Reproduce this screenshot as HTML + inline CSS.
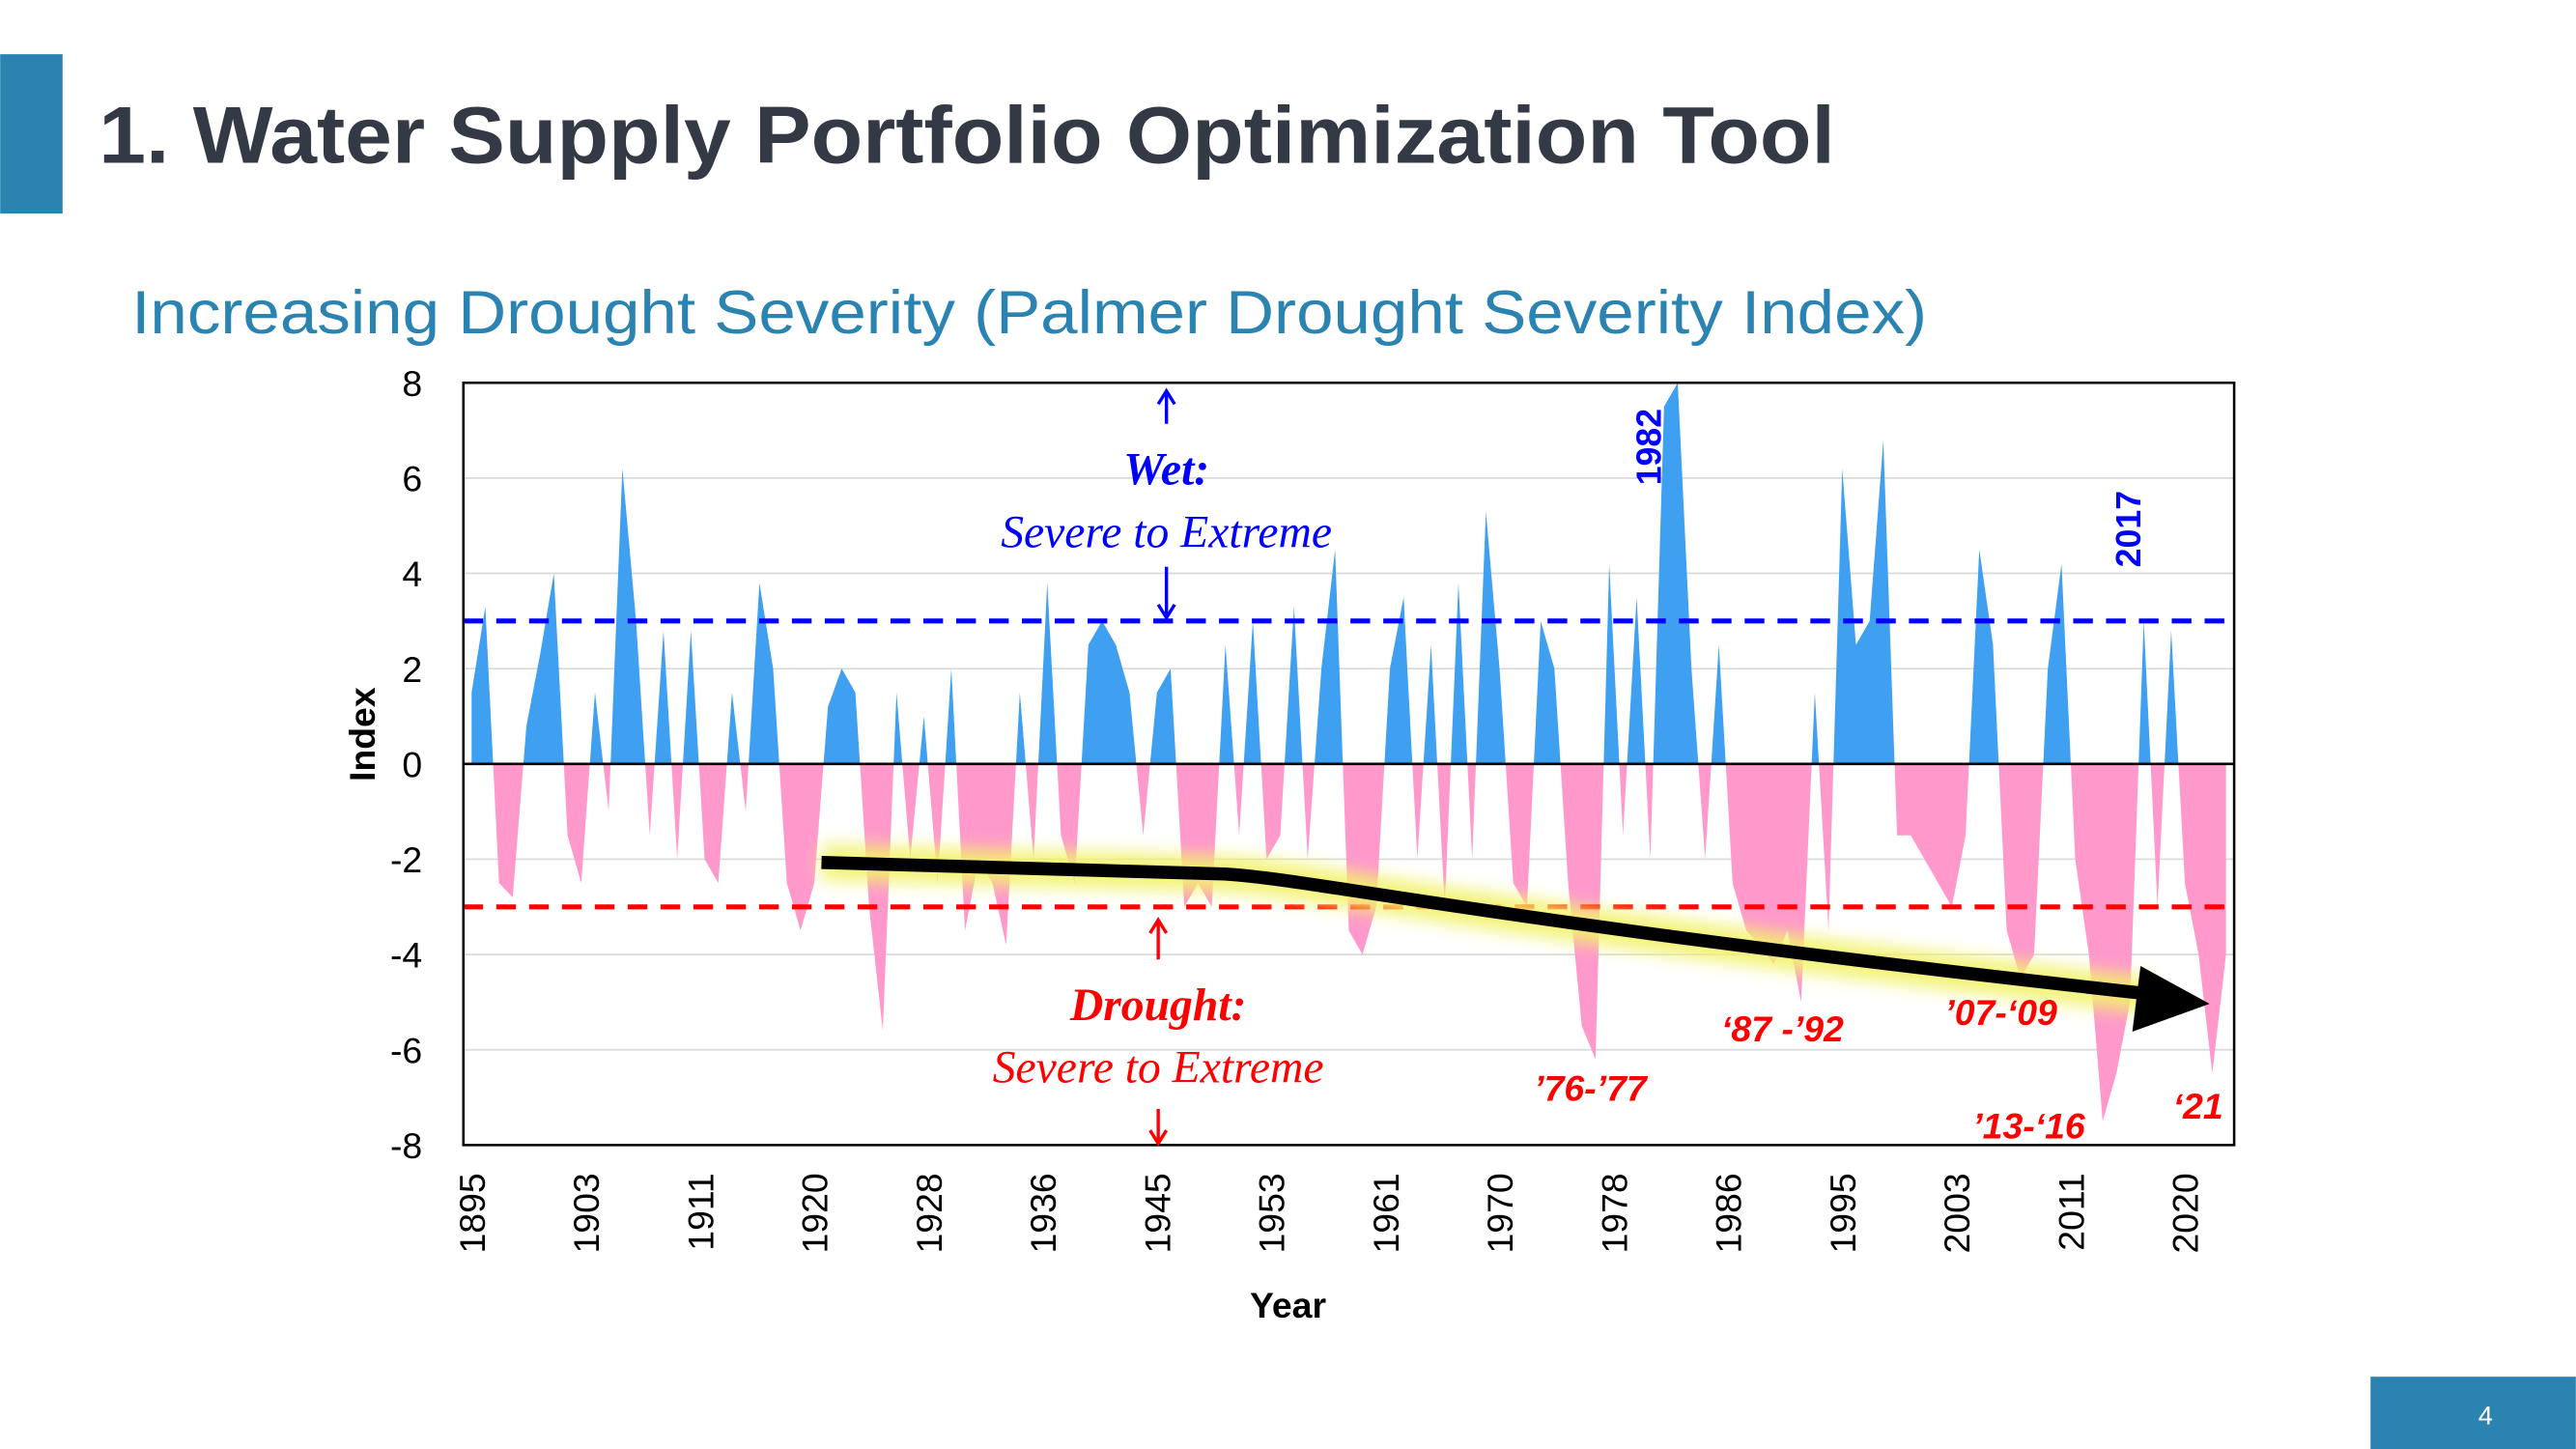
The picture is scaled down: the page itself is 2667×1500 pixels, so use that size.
<!DOCTYPE html>
<html><head><meta charset="utf-8"><style>
html,body{margin:0;padding:0;background:#fff;}
svg{display:block;}
</style></head><body>
<svg id="chart" width="2667" height="1500" viewBox="0 0 1568 882" xmlns="http://www.w3.org/2000/svg" font-family="Liberation Sans, sans-serif">
<defs>
<clipPath id="clipPos"><rect x="282" y="233" width="1078" height="232"/></clipPath>
<clipPath id="clipNeg"><rect x="282" y="465" width="1078" height="232"/></clipPath>
<filter id="glow" x="-20%" y="-50%" width="140%" height="200%"><feGaussianBlur stdDeviation="5"/></filter>
</defs>
<rect x="0" y="33" width="38" height="97" fill="#2a83b0"/>
<text x="60" y="99" font-size="49" font-weight="bold" fill="#333a45" textLength="1057" lengthAdjust="spacingAndGlyphs">1. Water Supply Portfolio Optimization Tool</text>
<text x="80" y="203" font-size="37" fill="#2a83b0" textLength="1093" lengthAdjust="spacingAndGlyphs">Increasing Drought Severity (Palmer Drought Severity Index)</text>
<g id="gridG"></g>
<g id="seriesG"></g>
<g id="axesG"></g>
<g>
<path d="M500,525 L745,532 C800,535 900,560 1310,606" stroke="#f2f26a" stroke-width="22" fill="none" filter="url(#glow)" opacity="0.9"/>
<path d="M500,525 L745,532 C800,535 900,560 1308,605" stroke="#000" stroke-width="8" fill="none"/>
<polygon points="1345,611 1303,588 1298,628" fill="#000"/>
</g>
<g font-family="Liberation Serif, serif" font-style="italic" fill="#0000ff" text-anchor="middle">
<text x="710" y="295" font-size="28" font-weight="bold">Wet:</text>
<text x="710" y="333" font-size="28">Severe to Extreme</text>
<path d="M710,258 L710,240 M705,246 L710,238 L715,246 M710,345 L710,374 M705,368 L710,376 L715,368" stroke="#0000ff" stroke-width="2" fill="none"/>
</g>
<g font-family="Liberation Serif, serif" font-style="italic" fill="#ff0000" text-anchor="middle">
<text x="705" y="621" font-size="28" font-weight="bold">Drought:</text>
<text x="705" y="659" font-size="28">Severe to Extreme</text>
<path d="M705,584 L705,561 M700,568 L705,560 L710,568 M705,675 L705,694 M700,688 L705,696 L710,688" stroke="#ff0000" stroke-width="2" fill="none"/>
</g>
<g font-family="Liberation Sans, sans-serif" font-style="italic" font-weight="bold" fill="#ff0000" font-size="22" text-anchor="middle">
<text x="968" y="670">’76-’77</text>
<text x="1085" y="634">‘87 -’92</text>
<text x="1218" y="624">’07-‘09</text>
<text x="1235" y="693">’13-‘16</text>
<text x="1338" y="681">‘21</text>
</g>
<g font-weight="bold" fill="#0000ff" font-size="21" text-anchor="middle">
<text transform="translate(1011,272) rotate(-90)">1982</text>
<text transform="translate(1303,322) rotate(-90)">2017</text>
</g>
<text transform="translate(228,447) rotate(-90)" font-size="22" font-weight="bold" text-anchor="middle" fill="#000">Index</text>
<text x="784" y="802" font-size="22" font-weight="bold" text-anchor="middle" fill="#000">Year</text>
<rect x="1443" y="838" width="125" height="44" fill="#2a83b0"/>
<text x="1513" y="867" font-size="16" fill="#fff" text-anchor="middle">4</text>
</svg>
<script>
const years = [];
for (let y = 1895; y <= 2023; y++) years.push(y);
const pdsiValues = [1.5,3.3,-2.5,-2.8,0.8,2.3,4,-1.5,-2.5,1.5,-1,6.2,3,-1.5,2.8,-2,2.8,-2,-2.5,1.5,-1,3.8,2,-2.5,-3.5,-2.5,1.2,2,1.5,-3,-5.6,1.5,-2,1,-2.5,2,-3.5,-2,-2.5,-3.8,1.5,-2,3.8,-1.5,-2.5,2.5,3,2.5,1.5,-1.5,1.5,2,-3,-2.5,-3,2.5,-1.5,3,-2,-1.5,3.3,-2,2,4.5,-3.5,-4,-3,2,3.5,-2,2.5,-3,3.8,-2,5.3,2,-2.5,-3,3,2,-2.5,-5.5,-6.2,4.2,-1.5,3.5,-2,7.5,8,2,-2,2.5,-2.5,-3.5,-3.8,-4.2,-3.5,-5,1.5,-3.5,6.2,2.5,3,6.8,-1.5,-1.5,-2,-2.5,-3,-1.5,4.5,2.5,-3.5,-4.5,-4,2,4.2,-2,-4,-7.5,-6.5,-5,3,-3,2.8,-2.5,-4,-6.5,-4];
const yTicks = [8,6,4,2,0,-2,-4,-6,-8];
const xTickLabels = [1895,1903,1911,1920,1928,1936,1945,1953,1961,1970,1978,1986,1995,2003,2011,2020];
const wetThreshold = 3, droughtThreshold = -3;

const NS = 'http://www.w3.org/2000/svg';
const L = 282, R = 1360, T = 233, B = 697;
function xs(yr){ return 287 + (yr - 1895) * (1043 / 125); }
function ys(v){ return 465 - v * 29; }
function mk(tag, attrs, parent){ const e = document.createElementNS(NS, tag); for (const k in attrs) e.setAttribute(k, attrs[k]); parent.appendChild(e); return e; }

const grid = document.getElementById('gridG');
yTicks.forEach(t => {
  const ln = mk('line', {x1:L, x2:R, y1:ys(t), y2:ys(t), stroke:'#d9d9d9', 'stroke-width':1}, grid);
  
  
});

const s = document.getElementById('seriesG');
let d = 'M' + xs(years[0]) + ',' + ys(0);
years.forEach((yr, i) => { d += ' L' + xs(yr).toFixed(2) + ',' + ys(pdsiValues[i]).toFixed(2); });
d += ' L' + xs(years[years.length-1]) + ',' + ys(0) + ' Z';
const pos = mk('path', {d:d, fill:'#3f9ff0', 'clip-path':'url(#clipPos)'}, s);


const neg = mk('path', {d:d, fill:'#ff99cc', 'clip-path':'url(#clipNeg)'}, s);



const ax = document.getElementById('axesG');
const wl = mk('line', {x1:L, x2:R, y1:ys(wetThreshold), y2:ys(wetThreshold), stroke:'#0000ff', 'stroke-width':3, 'stroke-dasharray':'12,8'}, ax);


const dl = mk('line', {x1:L, x2:R, y1:ys(droughtThreshold), y2:ys(droughtThreshold), stroke:'#ff0000', 'stroke-width':3, 'stroke-dasharray':'12,8'}, ax);


const zl = mk('line', {x1:L, x2:R, y1:ys(0), y2:ys(0), stroke:'#000', 'stroke-width':1.5}, ax);


const fr = mk('rect', {x:L, y:T, width:R-L, height:B-T, fill:'none', stroke:'#000', 'stroke-width':1.5}, ax);


yTicks.forEach(t => {
  const tx = mk('text', {x:257, y:ys(t)+8, 'font-size':22, 'text-anchor':'end', fill:'#000'}, ax);
  
  
  tx.textContent = t;
});
xTickLabels.forEach((lab, i) => {
  const px = 287 + i * (1043 / 15);
  const tx = mk('text', {transform:'translate(' + (px+8) + ',714) rotate(-90)', 'font-size':22, 'text-anchor':'end', fill:'#000'}, ax);
  
  
  tx.textContent = lab;
});
</script>
</body></html>
